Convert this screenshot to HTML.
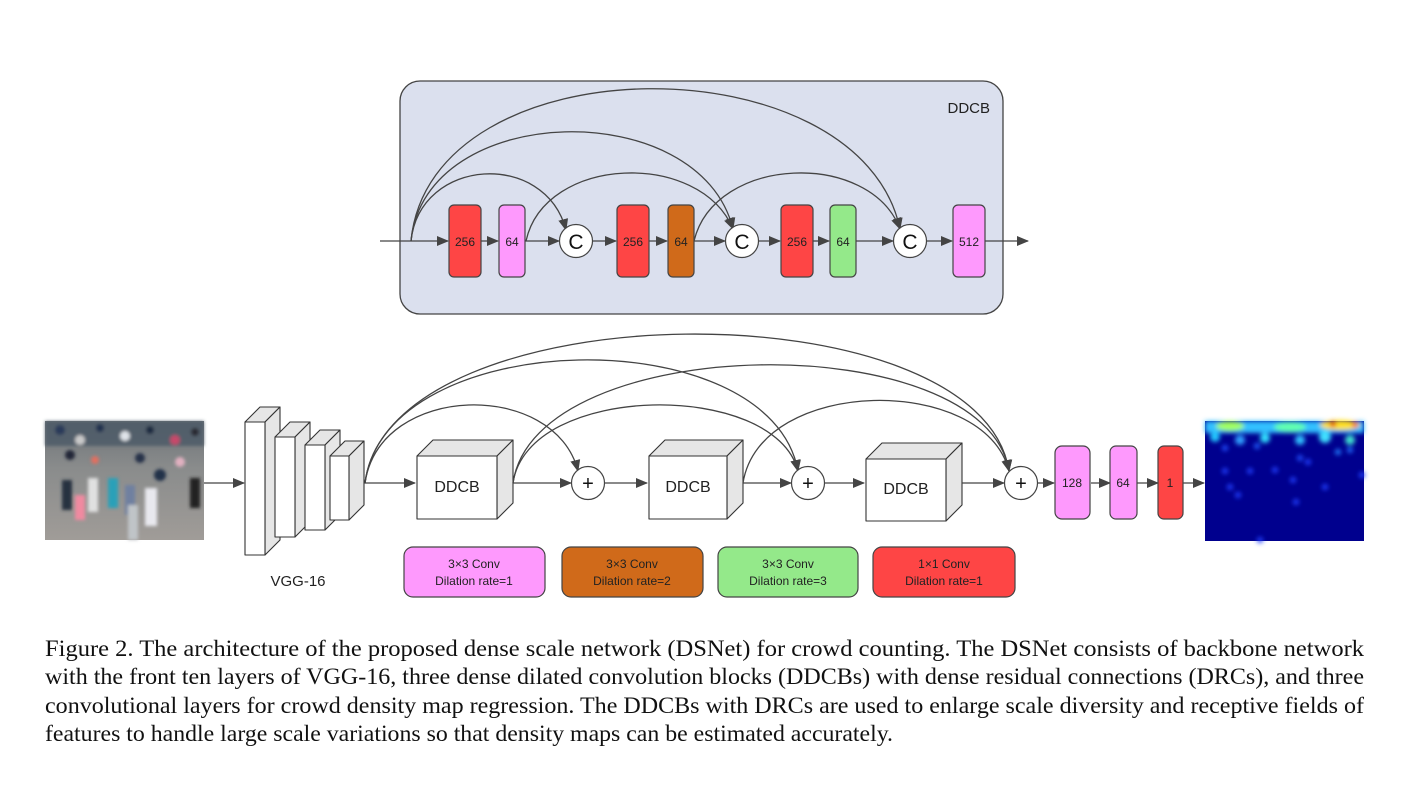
<!DOCTYPE html>
<html><head><meta charset="utf-8"><style>
html,body{margin:0;padding:0;background:#fff;}
svg{display:block;}
</style></head><body>
<svg width="1410" height="800" viewBox="0 0 1410 800" xmlns="http://www.w3.org/2000/svg" font-family="Liberation Sans, sans-serif">
<defs>
<marker id="a" markerWidth="12" markerHeight="10" refX="11" refY="5" orient="auto" markerUnits="userSpaceOnUse">
<path d="M0,0 L12,5 L0,10 z" fill="#444"/></marker>
<filter id="bl" x="-50%" y="-50%" width="200%" height="200%"><feGaussianBlur stdDeviation="2.5"/></filter>
<filter id="bl2"><feGaussianBlur stdDeviation="1.5"/></filter>
<linearGradient id="cg" x1="0" y1="0" x2="0" y2="1">
<stop offset="0" stop-color="#6d7378"/><stop offset="0.4" stop-color="#8a8c8c"/><stop offset="1" stop-color="#a09c98"/></linearGradient>
</defs>

<rect x="400" y="81" width="603" height="233" rx="20" fill="#dbe0ee" stroke="#444" stroke-width="1.3"/>
<text x="990" y="113" font-size="15" text-anchor="end" fill="#222">DDCB</text>

<g stroke="#444" stroke-width="1.3" fill="none" marker-end="url(#a)">
<line x1="380" y1="241" x2="448" y2="241"/>
<line x1="481" y1="241" x2="498" y2="241"/>
<line x1="525" y1="241" x2="559" y2="241"/>
<line x1="593" y1="241" x2="616" y2="241"/>
<line x1="649" y1="241" x2="667" y2="241"/>
<line x1="694" y1="241" x2="725" y2="241"/>
<line x1="759" y1="241" x2="780" y2="241"/>
<line x1="813" y1="241" x2="829" y2="241"/>
<line x1="856" y1="241" x2="893" y2="241"/>
<line x1="927" y1="241" x2="952" y2="241"/>
<line x1="985" y1="241" x2="1028" y2="241"/>
<path d="M411,241 C420,157 545,150 566,230"/>
<path d="M411,241 C425,100 700,95 733,229"/>
<path d="M411,241 C430,40 860,40 900,229"/>
<path d="M526,241 C545,155 700,150 733,229"/>
<path d="M694,241 C715,155 870,150 900,229"/>
</g>
<g stroke="#444" stroke-width="1.2">
<rect x="449" y="205" width="32" height="72" rx="5" fill="#fe4545"/>
<rect x="499" y="205" width="26" height="72" rx="5" fill="#fe99fd"/>
<rect x="617" y="205" width="32" height="72" rx="5" fill="#fe4545"/>
<rect x="668" y="205" width="26" height="72" rx="5" fill="#d06a1a"/>
<rect x="781" y="205" width="32" height="72" rx="5" fill="#fe4545"/>
<rect x="830" y="205" width="26" height="72" rx="5" fill="#94e98a"/>
<rect x="953" y="205" width="32" height="72" rx="5" fill="#fe99fd"/>
<circle cx="576" cy="241" r="16.5" fill="#fff"/>
<circle cx="742" cy="241" r="16.5" fill="#fff"/>
<circle cx="910" cy="241" r="16.5" fill="#fff"/>
</g>
<g font-size="12" text-anchor="middle" fill="#222">
<text x="465" y="246">256</text><text x="512" y="246">64</text>
<text x="633" y="246">256</text><text x="681" y="246">64</text>
<text x="797" y="246">256</text><text x="843" y="246">64</text>
<text x="969" y="246">512</text>
</g>
<g font-size="21" text-anchor="middle" fill="#111">
<text x="576" y="249">C</text><text x="742" y="249">C</text><text x="910" y="249">C</text>
</g>

<g>
<rect x="45" y="421" width="159" height="119" fill="url(#cg)"/>
<g filter="url(#bl2)">
<rect x="45" y="421" width="159" height="25" fill="#4b5866" opacity="0.8"/>
<circle cx="60" cy="430" r="5" fill="#2b3a5a"/><circle cx="80" cy="440" r="5" fill="#c9c9c9"/>
<circle cx="100" cy="428" r="4" fill="#203050"/><circle cx="125" cy="436" r="5" fill="#dfe3e8"/>
<circle cx="150" cy="430" r="4" fill="#1e2a40"/><circle cx="175" cy="440" r="5" fill="#c64a6a"/>
<circle cx="195" cy="432" r="4" fill="#2a2a30"/><circle cx="70" cy="455" r="5" fill="#202838"/>
<circle cx="95" cy="460" r="4" fill="#e07060"/><circle cx="140" cy="458" r="5" fill="#283248"/>
<circle cx="180" cy="462" r="5" fill="#e0b0c0"/><circle cx="160" cy="475" r="6" fill="#243048"/>
<rect x="62" y="480" width="10" height="30" fill="#283040"/>
<rect x="88" y="478" width="10" height="34" fill="#e0e0e0"/>
<rect x="108" y="478" width="10" height="30" fill="#2aa0b8"/>
<rect x="125" y="485" width="10" height="30" fill="#7080a0"/>
<rect x="145" y="488" width="12" height="38" fill="#e8e8ee"/>
<rect x="128" y="505" width="10" height="35" fill="#c0c4c8"/>
<rect x="75" y="495" width="10" height="25" fill="#f08aa0"/>
<rect x="190" y="478" width="10" height="30" fill="#202020"/>
</g>
</g>
<line x1="204" y1="483" x2="244" y2="483" stroke="#444" stroke-width="1.3" marker-end="url(#a)"/>

<g stroke="#333" stroke-width="1.1" stroke-linejoin="round">
<path d="M245,422 L260,407 L280,407 L265,422 z" fill="#e6e6e6"/>
<path d="M265,422 L280,407 L280,540 L265,555 z" fill="#e6e6e6"/>
<rect x="245" y="422" width="20" height="133" fill="#fff"/>
<path d="M275,437 L290,422 L310,422 L295,437 z" fill="#e6e6e6"/>
<path d="M295,437 L310,422 L310,522 L295,537 z" fill="#e6e6e6"/>
<rect x="275" y="437" width="20" height="100" fill="#fff"/>
<path d="M305,445 L320,430 L340,430 L325,445 z" fill="#e6e6e6"/>
<path d="M325,445 L340,430 L340,515 L325,530 z" fill="#e6e6e6"/>
<rect x="305" y="445" width="20" height="85" fill="#fff"/>
<path d="M330,456 L345,441 L364,441 L349,456 z" fill="#e6e6e6"/>
<path d="M349,456 L364,441 L364,505 L349,520 z" fill="#e6e6e6"/>
<rect x="330" y="456" width="19" height="64" fill="#fff"/>
</g>
<text x="298" y="586" font-size="15" text-anchor="middle" fill="#222">VGG-16</text>

<g stroke="#333" stroke-width="1.1" stroke-linejoin="round">
<path d="M417,456 L433,440 L513,440 L497,456 z" fill="#e6e6e6"/>
<path d="M497,456 L513,440 L513,503 L497,519 z" fill="#e6e6e6"/>
<rect x="417" y="456" width="80" height="63" fill="#fff"/>
<path d="M649,456 L665,440 L743,440 L727,456 z" fill="#e6e6e6"/>
<path d="M727,456 L743,440 L743,503 L727,519 z" fill="#e6e6e6"/>
<rect x="649" y="456" width="78" height="63" fill="#fff"/>
<path d="M866,459 L882,443 L962,443 L946,459 z" fill="#e6e6e6"/>
<path d="M946,459 L962,443 L962,505 L946,521 z" fill="#e6e6e6"/>
<rect x="866" y="459" width="80" height="62" fill="#fff"/>
</g>
<g font-size="16" text-anchor="middle" fill="#222">
<text x="457" y="492">DDCB</text><text x="688" y="492">DDCB</text><text x="906" y="494">DDCB</text>
</g>

<g stroke="#444" stroke-width="1.3" fill="none" marker-end="url(#a)">
<line x1="364" y1="483" x2="415" y2="483"/>
<line x1="513" y1="483" x2="571" y2="483"/>
<line x1="605" y1="483" x2="647" y2="483"/>
<line x1="743" y1="483" x2="791" y2="483"/>
<line x1="825" y1="483" x2="864" y2="483"/>
<line x1="962" y1="483" x2="1004" y2="483"/>
<line x1="1038" y1="483" x2="1054" y2="483"/>
<line x1="1091" y1="483" x2="1110" y2="483"/>
<line x1="1137" y1="483" x2="1158" y2="483"/>
<line x1="1183" y1="483" x2="1204" y2="483"/>
<path d="M365,483 C380,382 555,380 578,471"/>
<path d="M365,483 C385,324 770,318 798,471"/>
<path d="M365,483 C390,288 980,285 1009,471"/>
<path d="M513,483 C528,382 775,380 798,471"/>
<path d="M513,483 C535,330 985,325 1009,471"/>
<path d="M743,483 C760,376 985,374 1009,471"/>
</g>
<g stroke="#444" stroke-width="1.2">
<circle cx="588" cy="483" r="16.5" fill="#fff"/>
<circle cx="808" cy="483" r="16.5" fill="#fff"/>
<circle cx="1021" cy="483" r="16.5" fill="#fff"/>
<rect x="1055" y="446" width="35" height="73" rx="7" fill="#fe99fd"/>
<rect x="1110" y="446" width="27" height="73" rx="6" fill="#fe99fd"/>
<rect x="1158" y="446" width="25" height="73" rx="6" fill="#fe4545"/>
</g>
<g font-size="20" text-anchor="middle" fill="#111">
<text x="588" y="490">+</text><text x="808" y="490">+</text><text x="1021" y="490">+</text>
</g>
<g font-size="12" text-anchor="middle" fill="#222">
<text x="1072" y="487">128</text><text x="1123" y="487">64</text><text x="1170" y="487">1</text>
</g>

<rect x="1205" y="421" width="159" height="120" fill="#00008e"/>
<g filter="url(#bl)">
<rect x="1205" y="421" width="159" height="12" fill="#30c0ff"/>
<ellipse cx="1230" cy="426" rx="14" ry="5" fill="#a0ff60"/>
<ellipse cx="1290" cy="427" rx="16" ry="5" fill="#60ffb0"/>
<ellipse cx="1340" cy="425" rx="20" ry="5" fill="#ffe020"/>
<circle cx="1333" cy="424" r="3" fill="#e01010"/>
<circle cx="1355" cy="425" r="3" fill="#ff6010"/>
<circle cx="1215" cy="437" r="5" fill="#20c8ff"/><circle cx="1240" cy="440" r="5" fill="#30a0ff"/>
<circle cx="1265" cy="438" r="5" fill="#30e0ff"/><circle cx="1300" cy="440" r="5" fill="#30c0ff"/>
<circle cx="1325" cy="437" r="6" fill="#40e0ff"/><circle cx="1350" cy="440" r="5" fill="#40e0d0"/>
<circle cx="1225" cy="448" r="3" fill="#2050ff"/><circle cx="1257" cy="446" r="3" fill="#2060ff"/>
<circle cx="1300" cy="458" r="3" fill="#2050ff"/><circle cx="1338" cy="452" r="3" fill="#2080ff"/>
<circle cx="1308" cy="462" r="3" fill="#2040ff"/><circle cx="1350" cy="450" r="3" fill="#2070ff"/>
<circle cx="1225" cy="471" r="3" fill="#2040ff"/><circle cx="1250" cy="471" r="3" fill="#2040ff"/>
<circle cx="1275" cy="470" r="3" fill="#2040ff"/><circle cx="1293" cy="480" r="3" fill="#2040ff"/>
<circle cx="1230" cy="487" r="3" fill="#2040ff"/><circle cx="1238" cy="495" r="3" fill="#2040ff"/>
<circle cx="1325" cy="487" r="3" fill="#2040ff"/><circle cx="1296" cy="502" r="3" fill="#2040ff"/>
<circle cx="1362" cy="475" r="3" fill="#2040ff"/><circle cx="1260" cy="540" r="3" fill="#2040ff"/>
</g>

<g stroke="#444" stroke-width="1.2">
<rect x="404" y="547" width="141" height="50" rx="9" fill="#fe99fd"/>
<rect x="562" y="547" width="141" height="50" rx="9" fill="#d06a1a"/>
<rect x="718" y="547" width="140" height="50" rx="9" fill="#94e98a"/>
<rect x="873" y="547" width="142" height="50" rx="9" fill="#fe4545"/>
</g>
<g font-size="12" text-anchor="middle" fill="#222">
<text x="474" y="568">3×3 Conv</text><text x="474" y="585">Dilation rate=1</text>
<text x="632" y="568">3×3 Conv</text><text x="632" y="585">Dilation rate=2</text>
<text x="788" y="568">3×3 Conv</text><text x="788" y="585">Dilation rate=3</text>
<text x="944" y="568">1×1 Conv</text><text x="944" y="585">Dilation rate=1</text>
</g>

<g font-family="Liberation Serif, serif" font-size="23" fill="#111">
<text x="45" y="656" textLength="1319" lengthAdjust="spacingAndGlyphs">Figure 2. The architecture of the proposed dense scale network (DSNet) for crowd counting.  The DSNet consists of backbone network</text>
<text x="45" y="684" textLength="1319" lengthAdjust="spacingAndGlyphs">with the front ten layers of VGG-16, three dense dilated convolution blocks (DDCBs) with dense residual connections (DRCs), and three</text>
<text x="45" y="713" textLength="1319" lengthAdjust="spacingAndGlyphs">convolutional layers for crowd density map regression.  The DDCBs with DRCs are used to enlarge scale diversity and receptive fields of</text>
<text x="45" y="741" textLength="848" lengthAdjust="spacingAndGlyphs">features to handle large scale variations so that density maps can be estimated accurately.</text>
</g>
</svg>
</body></html>
